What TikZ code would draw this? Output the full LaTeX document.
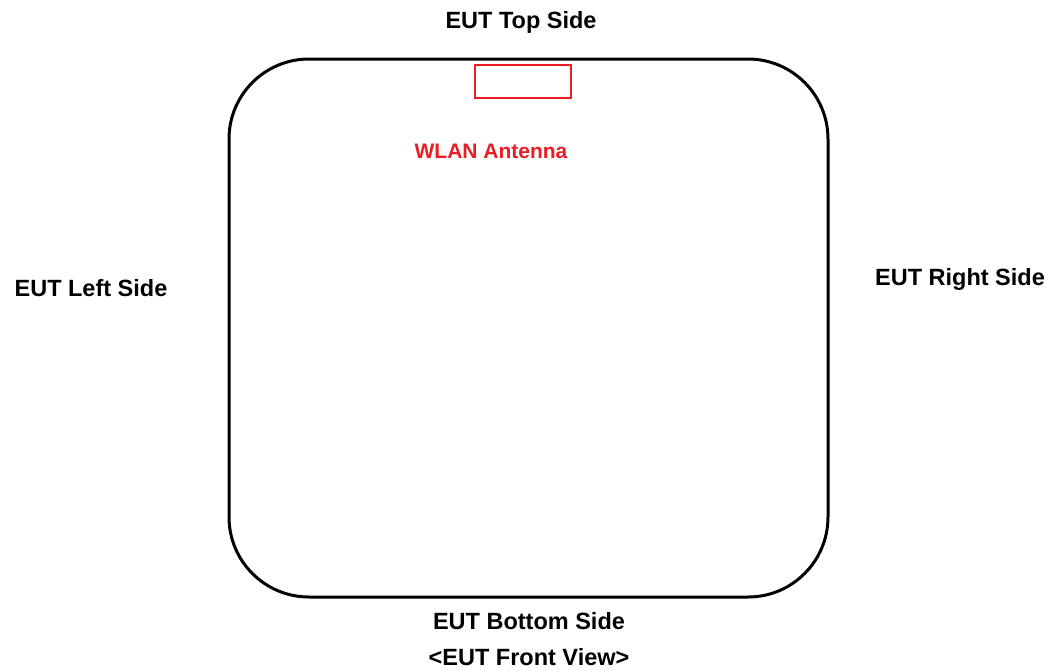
\documentclass[tikz,border=0pt]{standalone}
\usepackage{fontspec}
\setmainfont{Liberation Sans}
\tikzset{
  lbl/.style={font=\fontsize{23.5}{27}\selectfont\bfseries, inner sep=0pt, anchor=base},
  antlbl/.style={lbl, font=\fontsize{21}{25}\selectfont\bfseries, text=antred},
}
\definecolor{antred}{RGB}{236,28,36}
\begin{document}
\begin{tikzpicture}[x=1pt,y=-1pt,line width=3pt]

    \useasboundingbox (0,0) rectangle (1053,670);

    \draw[rounded corners=80pt] (229,59) rectangle (828,597);
    \node [draw=antred,line width=2.6pt,minimum width=96pt,minimum height=33pt,inner sep=0pt] (ant) at (523,81.5) {};

    \node [lbl] (top) at (521,28) {EUT Top Side};
    \node [antlbl] (wlan) at (491,158) {WLAN Antenna};
    \node [lbl] (left) at (91,296) {EUT Left Side};
    \node [lbl] (right) at (960,285) {EUT Right Side};
    \node [lbl] (bottom) at (529,629) {EUT Bottom Side};
    \node [lbl] (view) at (529,665) {<EUT Front View>};

\end{tikzpicture}
\end{document}
